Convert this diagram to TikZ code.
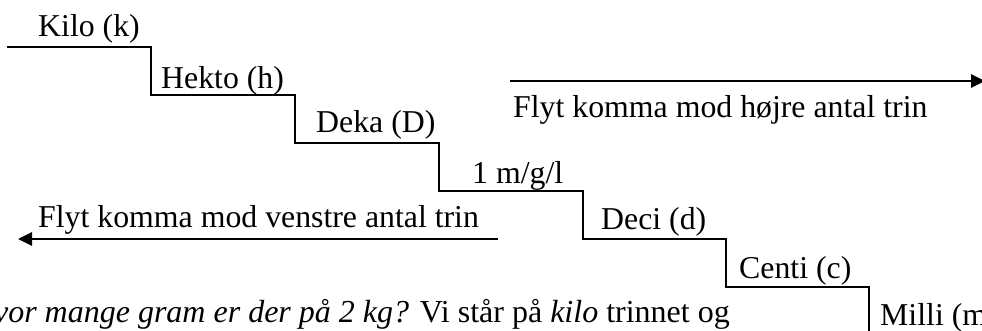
\documentclass[tikz,border=0pt]{standalone}
\usepackage{fontspec}
\setmainfont{Liberation Serif}
\usetikzlibrary{arrows.meta}
\begin{document}
\begin{tikzpicture}[x=1pt,y=-1pt,
  lbl/.style={anchor=base west,inner sep=0pt,font=\fontsize{31.8}{36}\selectfont},
  stair/.style={line width=2pt,line join=miter},
  move/.style={line width=2.8pt,-{Triangle[length=14pt,width=13pt]}}]
  \useasboundingbox (0,0) rectangle (982,330);
  \clip (0,0) rectangle (982,330);

  % staircase of unit prefixes
  \draw[stair] (7,47) -- (151,47) -- (151,95) -- (295,95) -- (295,143)
    -- (439,143) -- (439,191) -- (583,191) -- (583,239) -- (726,239)
    -- (726,287) -- (869,287) -- (869,340);

  \node[lbl] (kilo)  at (38,36)  {Kilo (k)};
  \node[lbl] (hekto) at (161,88) {Hekto (h)};
  \node[lbl] (deka)  at (316,132) {Deka (D)};
  \node[lbl] (unit)  at (472,183) {1 m/g/l};
  \node[lbl] (deci)  at (601,229) {Deci (d)};
  \node[lbl] (centi) at (739,278) {Centi (c)};
  \node[lbl] (milli) at (880,325) {Milli (m)};

  % direction arrows
  \coordinate (rs) at (510,81);
  \coordinate (re) at (985,81);
  \draw[move] (rs) -- (re);
  \node[lbl] (right) at (513,117) {Flyt komma mod højre antal trin};

  \coordinate (ls) at (498,239);
  \coordinate (le) at (18,239);
  \draw[move] (ls) -- (le);
  \node[lbl] (left) at (38,227) {Flyt komma mod venstre antal trin};

  % example question
  \node[lbl,anchor=base east,font=\fontsize{32.0}{36}\selectfont] (question) at (730,322)
    {\textit{Hvor mange gram er der på 2 kg?} Vi står på \textit{kilo} trinnet og};
\end{tikzpicture}
\end{document}
